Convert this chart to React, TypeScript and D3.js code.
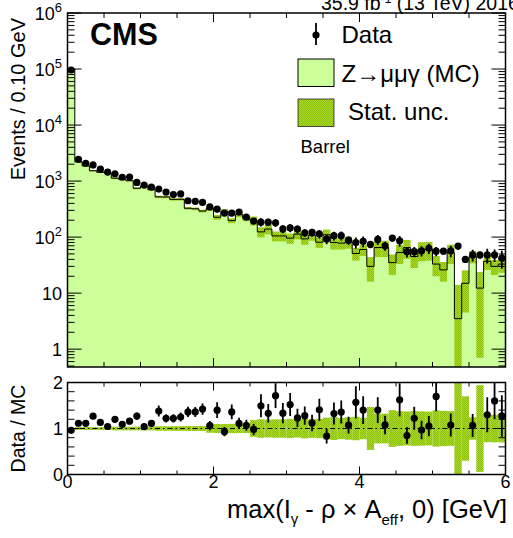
import React from "react";
import * as d3 from "d3";

// ---- data (60 bins of 0.10 GeV from 0 to 6 GeV) ----
const binWidth = 0.1;
const dataCounts = [96000, 2450, 2080, 1940, 1630, 1450, 1350, 1170, 1180, 945,
  850, 780, 720, 635, 575, 590, 445, 435, 415, 345,
  316, 268, 268, 280, 228, 193, 185, 185, 180, 140,
  146, 139, 119, 121, 114, 92, 106, 106, 88, 80,
  84, 74, 91, 70, 96, 86, 55, 55, 57, 63,
  56, 56, 57, 69, 40, 48, 48, 48, 48, 42];
const mcCounts = [100000, 2200, 1870, 1530, 1440, 1390, 1125, 1073, 1017, 744,
  817, 703, 522, 520, 471, 472, 327, 320, 292, 325,
  226, 288, 197, 252, 213, 197, 124, 139, 105, 105,
  96, 113, 93, 108, 81, 110, 80, 78, 82, 51,
  60, 30, 65, 65, 35, 53, 65, 45, 59, 60,
  33, 26, 53, 3.5, 15, 45, 12.3, 37, 30, 33];
const mcErr = [1000, 66, 56, 46, 43, 42, 45, 43, 41, 30,
  33, 28, 26, 26, 24, 24, 18, 17, 16, 30,
  22, 28, 20, 25, 21, 36, 25, 27, 21, 21,
  20, 22, 20, 22, 17, 26, 20, 18, 20, 13,
  14, 14, 21, 21, 14, 20, 24, 17, 22, 22,
  13, 10, 20, 10.5, 10.5, 11, 11.6, 11, 9, 10];
const ratioErr = [0.02, 0.03, 0.03, 0.04, 0.04, 0.04, 0.05, 0.05, 0.05, 0.08,
  0.06, 0.07, 0.12, 0.09, 0.09, 0.1, 0.11, 0.11, 0.12, 0.1,
  0.17, 0.1, 0.16, 0.12, 0.12, 0.12, 0.25, 0.2, 0.27, 0.22,
  0.25, 0.2, 0.2, 0.18, 0.24, 0.16, 0.24, 0.25, 0.18, 0.35,
  0.3, 0.35, 0.28, 0.2, 0.38, 0.36, 0.18, 0.25, 0.2, 0.22,
  0.32, 0.3, 0.25, 2.8, 0.37, 0.25, 0.55, 0.38, 0.4, 0.45];

const xTickLabels = [0, 2, 4, 6];
const yMainExponents = [0, 1, 2, 3, 4, 5, 6];
const yRatioLabels = [0, 1, 2];

const FONT = "'Liberation Sans', Arial, Helvetica, sans-serif";

export default function App() {
  const W = 513, H = 538;
  const L = 67.5, R = 505.5;
  const mainTop = 13, mainBot = 367;
  const ratTop = 382.5, ratBot = 474.5;

  const x = d3.scaleLinear().domain([0, 6]).range([L, R]);
  const y = d3.scaleLog().domain([0.48, 1e6]).range([mainBot, mainTop]).clamp(true);
  const yr = d3.scaleLinear().domain([0, 2]).range([ratBot, ratTop]);

  const bins = dataCounts.map((d, i) => {
    const lo = i * binWidth;
    const hi = lo + binWidth;
    const mc = mcCounts[i];
    return { i, lo, hi, c: lo + binWidth / 2, data: d, mc, err: mcErr[i], ratio: d / mc, rerr: ratioErr[i] };
  });

  // MC step outline
  const stepPts: [number, number][] = [];
  bins.forEach((b) => {
    stepPts.push([x(b.lo), y(b.mc)]);
    stepPts.push([x(b.hi), y(b.mc)]);
  });
  const stepLine = d3.line()(stepPts) || "";
  const fillPts: [number, number][] = [[x(0), mainBot], ...stepPts, [x(6), mainBot]];
  const fillPath = (d3.line()(fillPts) || "") + "Z";

  // ticks
  const logMajor = yMainExponents.map((e) => Math.pow(10, e));
  const logMinor: number[] = [];
  [-1, 0, 1, 2, 3, 4, 5].forEach((e) => {
    for (let k = 2; k <= 9; k++) {
      const v = k * Math.pow(10, e);
      if (v >= 0.48 && v <= 1e6) logMinor.push(v);
    }
  });
  const xMinor = d3.range(0, 6.0001, 0.5);
  const rMinor = d3.range(0, 2.0001, 0.2);

  return (
    <svg width={W} height={H} style={{ position: "absolute", left: 0, top: 0, background: "#fff" }} fontFamily={FONT}>
      <defs>
        <clipPath id="clipMain"><rect x={L} y={mainTop} width={R - L} height={mainBot - mainTop} /></clipPath>
        <clipPath id="clipRat"><rect x={L} y={ratTop} width={R - L} height={ratBot - ratTop} /></clipPath>
        <pattern id="dots" width="2" height="2" patternUnits="userSpaceOnUse">
          <rect width="2" height="2" fill="#a9d934" />
          <rect width="1" height="1" fill="#8cbf00" />
          <rect x="1" y="1" width="1" height="1" fill="#8cbf00" />
        </pattern>
      </defs>

      {/* top lumi text */}
      <text x={321} y={10} fontSize={19.5} fill="#000">35.9 fb<tspan dy={-7} fontSize={12}>-1</tspan><tspan dy={7}> (13 TeV) 2016</tspan></text>

      {/* ===== main panel ===== */}
      <g clipPath="url(#clipMain)">
        <path d={fillPath} fill="#ccff99" stroke="none" />
        {bins.map((b) => (
          <rect key={"b" + b.i} x={x(b.lo)} width={x(b.hi) - x(b.lo)}
            y={y(b.mc + b.err)} height={y(Math.max(b.mc - b.err, 0.3)) - y(b.mc + b.err)} fill="url(#dots)" />
        ))}
        <path d={stepLine} fill="none" stroke="#000" strokeWidth={1} />
        <line x1={x(0)} x2={x(0)} y1={mainBot} y2={y(bins[0].mc)} stroke="#000" strokeWidth={1} />
        {bins.map((b) => {
          const e = b.mc * b.rerr;
          return (
            <g key={"d" + b.i}>
              <line x1={x(b.c)} x2={x(b.c)} y1={y(b.data + e)} y2={y(Math.max(b.data - e, 0.3))} stroke="#000" strokeWidth={1.8} />
              <circle cx={x(b.c)} cy={y(b.data)} r={3.6} fill="#000" />
            </g>
          );
        })}
      </g>

      {/* main axes ticks */}
      {logMajor.map((v) => (
        <g key={"lm" + v}>
          <line x1={L} x2={L + 14} y1={y(v)} y2={y(v)} stroke="#000" strokeWidth={1} />
          <line x1={R} x2={R - 14} y1={y(v)} y2={y(v)} stroke="#000" strokeWidth={1} />
        </g>
      ))}
      {logMinor.map((v) => (
        <g key={"ln" + v}>
          <line x1={L} x2={L + 7} y1={y(v)} y2={y(v)} stroke="#000" strokeWidth={1} />
          <line x1={R} x2={R - 7} y1={y(v)} y2={y(v)} stroke="#000" strokeWidth={1} />
        </g>
      ))}
      {xMinor.map((v) => {
        const major = Math.abs(v / 2 - Math.round(v / 2)) < 1e-6;
        const len = major ? 9 : 5;
        return (
          <g key={"xt" + v}>
            <line x1={x(v)} x2={x(v)} y1={mainBot} y2={mainBot - len} stroke="#000" strokeWidth={1} />
            <line x1={x(v)} x2={x(v)} y1={mainTop} y2={mainTop + len} stroke="#000" strokeWidth={1} />
            <line x1={x(v)} x2={x(v)} y1={ratBot} y2={ratBot - (major ? 8 : 4)} stroke="#000" strokeWidth={1} />
            <line x1={x(v)} x2={x(v)} y1={ratTop} y2={ratTop + (major ? 8 : 4)} stroke="#000" strokeWidth={1} />
          </g>
        );
      })}
      <rect x={L} y={mainTop} width={R - L} height={mainBot - mainTop} fill="none" stroke="#000" strokeWidth={1.5} />

      {/* main y labels */}
      {yMainExponents.map((e) => {
        const v = Math.pow(10, e);
        const yy = y(v) + 6.5;
        if (e === 0) return <text key={"yl" + e} x={62} y={yy} fontSize={18} textAnchor="end">1</text>;
        if (e === 1) return <text key={"yl" + e} x={62} y={yy} fontSize={18} textAnchor="end">10</text>;
        return (
          <text key={"yl" + e} x={62} y={yy} fontSize={18} textAnchor="end">10<tspan dy={-8} fontSize={13}>{e}</tspan></text>
        );
      })}
      <text transform={`translate(25,18) rotate(-90)`} fontSize={20} textAnchor="end">Events / 0.10 GeV</text>

      {/* CMS + legend */}
      <text x={90} y={45} fontSize={30.5} fontWeight="bold">CMS</text>
      <line x1={316} x2={316} y1={23} y2={45} stroke="#000" strokeWidth={1.8} />
      <circle cx={316} cy={35} r={3.6} fill="#000" />
      <text x={341.5} y={42.7} fontSize={24}>Data</text>
      <rect x={298} y={59} width={36} height={27.5} fill="#ccff99" stroke="#000" strokeWidth={1} />
      <text x={341.5} y={81.7} fontSize={24}>Z→μμγ (MC)</text>
      <rect x={298} y={99} width={36} height={27.5} fill="url(#dots)" stroke="#222" strokeWidth={0.8} />
      <text x={348} y={120} fontSize={24}>Stat. unc.</text>
      <text x={300.5} y={152.7} fontSize={18.5}>Barrel</text>

      {/* ===== ratio panel ===== */}
      <g clipPath="url(#clipRat)">
        {bins.map((b) => {
          const rel = b.err / b.mc;
          return (
            <rect key={"rb" + b.i} x={x(b.lo)} width={x(b.hi) - x(b.lo)}
              y={yr(1 + rel)} height={yr(Math.max(1 - rel, -0.5)) - yr(1 + rel)} fill="url(#dots)" />
          );
        })}
        <line x1={L} x2={R} y1={yr(1)} y2={yr(1)} stroke="#000" strokeWidth={1} strokeDasharray="5,3,1.5,3" />
        {bins.filter((b) => b.ratio <= 2 && b.ratio >= 0).map((b) => (
          <g key={"rp" + b.i}>
            <line x1={x(b.c)} x2={x(b.c)} y1={yr(b.ratio + b.rerr)} y2={yr(b.ratio - b.rerr)} stroke="#000" strokeWidth={1.8} />
            <circle cx={x(b.c)} cy={yr(b.ratio)} r={3.6} fill="#000" />
          </g>
        ))}
      </g>
      {rMinor.map((v) => {
        const major = Math.abs(v - Math.round(v)) < 1e-6;
        const len = major ? 12 : 7;
        return (
          <g key={"rt" + v}>
            <line x1={L} x2={L + len} y1={yr(v)} y2={yr(v)} stroke="#000" strokeWidth={1} />
            <line x1={R} x2={R - len} y1={yr(v)} y2={yr(v)} stroke="#000" strokeWidth={1} />
          </g>
        );
      })}
      <rect x={L} y={ratTop} width={R - L} height={ratBot - ratTop} fill="none" stroke="#000" strokeWidth={1.5} />
      {yRatioLabels.map((v) => (
        <text key={"ry" + v} x={63} y={yr(v) + 6.5} fontSize={18} textAnchor="end">{v}</text>
      ))}
      <text transform={`translate(25,${(ratTop + ratBot) / 2}) rotate(-90)`} fontSize={19.5} textAnchor="middle">Data / MC</text>

      {/* x labels */}
      {xTickLabels.map((v) => (
        <text key={"xl" + v} x={x(v)} y={488} fontSize={18} textAnchor="middle">{v}</text>
      ))}
      <text x={507} y={518} fontSize={25.5} textAnchor="end">max(I<tspan dy={6} fontSize={15}>γ</tspan><tspan dy={-6}> - ρ × A</tspan><tspan dy={7} fontSize={15}>eff</tspan><tspan dy={-7}>, 0) [GeV]</tspan></text>
    </svg>
  );
}
